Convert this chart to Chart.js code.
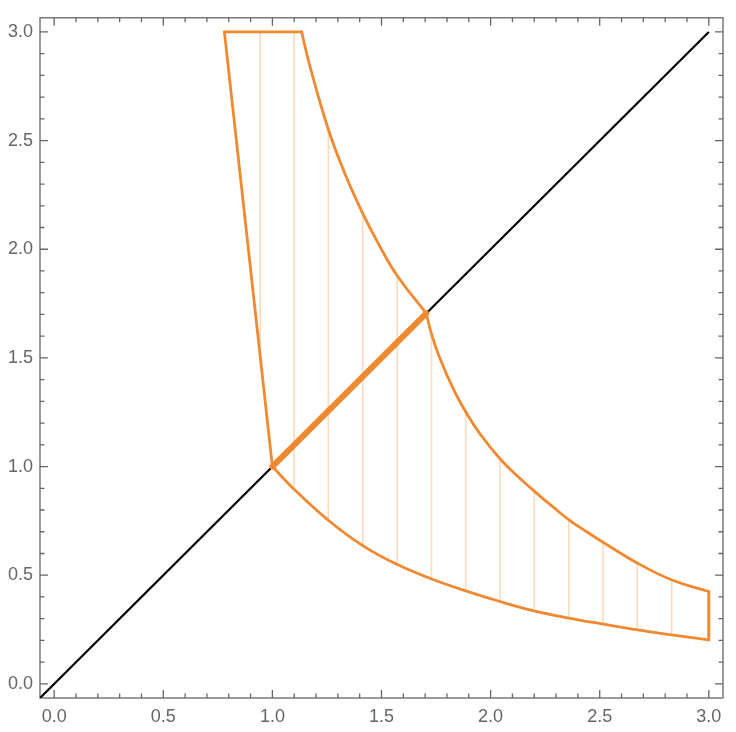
<!DOCTYPE html>
<html><head><meta charset="utf-8">
<script src="https://cdn.jsdelivr.net/npm/chart.js@4"></script>
<style>html,body{margin:0;padding:0;background:#fff}canvas{display:block}</style>
</head><body>
<canvas id="c" width="736" height="732"></canvas>
<script>
// ---- data ----
const tickValues = [0, 0.5, 1, 1.5, 2, 2.5, 3];
const tickLabels = ['0.0', '0.5', '1.0', '1.5', '2.0', '2.5', '3.0'];

const diagX = [-0.065, 3.0];
const diagY = [-0.065, 3.0];

const boldX = [1.0, 1.705];
const boldY = [1.0, 1.705];

const topEdgeX = [0.78, 1.134];
const topEdgeY = [3.0, 3.0];

const leftEdgeX = [0.78, 1.0];
const leftEdgeY = [3.0, 1.0];

const rightEdgeX = [3.0, 3.0];
const rightEdgeY = [0.202, 0.425];

const upperAX = [1.134, 1.1725, 1.256, 1.333, 1.414, 1.493, 1.572, 1.705];
const upperAY = [3.0, 2.840, 2.552, 2.346, 2.165, 2.012, 1.878, 1.705];

const upperBX = [1.705, 1.730, 1.768, 1.829, 1.886, 1.951, 2.043, 2.119, 2.200, 2.287, 2.359, 2.440, 2.513, 2.672, 2.831, 3.0];
const upperBY = [1.705, 1.607, 1.497, 1.357, 1.252, 1.151, 1.036, 0.960, 0.887, 0.813, 0.755, 0.700, 0.653, 0.556, 0.478, 0.425];

const lowerX = [1.0, 1.099, 1.256, 1.414, 1.570, 1.727, 1.886, 2.043, 2.199, 2.358, 2.516, 2.672, 2.829, 3.0];
const lowerY = [1.0, 0.896, 0.753, 0.636, 0.550, 0.484, 0.428, 0.379, 0.336, 0.303, 0.275, 0.249, 0.226, 0.202];

const meshX      = [0.944, 1.099, 1.256, 1.414, 1.572, 1.729, 1.886, 2.043, 2.200, 2.358, 2.515, 2.672, 2.830, 2.996];
const meshTop    = [3.0,   3.0,   2.552, 2.165, 1.878, 1.607, 1.252, 1.036, 0.887, 0.755, 0.653, 0.556, 0.478, 0.425];
const meshBottom = [1.50,  0.896, 0.753, 0.636, 0.550, 0.484, 0.428, 0.379, 0.336, 0.303, 0.275, 0.249, 0.226, 0.202];

const axisMin = -0.065, axisMax = 3.065;

// ---- build ----
const ORANGE = 'rgb(241,137,49)';
const MESH = 'rgba(242,140,51,0.32)';
const pts = (xs, ys) => xs.map((x, i) => ({x, y: ys[i]}));
const line = (xs, ys, color, w, extra) => Object.assign({
  data: pts(xs, ys), showLine: true, pointRadius: 0, pointHoverRadius: 0,
  borderColor: color, backgroundColor: color, borderWidth: w, fill: false,
  borderCapStyle: 'round', borderJoinStyle: 'round'
}, extra || {});

const datasets = [];
datasets.push(line(upperAX, upperAY, ORANGE, 2.8, {tension: 0.4}));
datasets.push(line(upperBX, upperBY, ORANGE, 2.8, {tension: 0.4}));
datasets.push(line(lowerX, lowerY, ORANGE, 2.8, {tension: 0.4}));
datasets.push(line(topEdgeX, topEdgeY, ORANGE, 2.8));
datasets.push(line(leftEdgeX, leftEdgeY, ORANGE, 2.8));
datasets.push(line(rightEdgeX, rightEdgeY, ORANGE, 2.8));
datasets.push(line(boldX, boldY, ORANGE, 6));
meshX.forEach((mx, i) => {
  datasets.push(line([mx, mx], [meshBottom[i], meshTop[i]], MESH, 1.6, {borderCapStyle: 'butt'}));
});
datasets.push(line(diagX, diagY, '#000', 2.2, {borderCapStyle: 'butt'}));

const framePlugin = {
  id: 'frame',
  beforeDatasetsDraw(chart) {
    const {ctx, chartArea: a, scales: {x, y}} = chart;
    ctx.save();
    ctx.strokeStyle = '#666';
    ctx.lineWidth = 1.3;
    ctx.strokeRect(a.left, a.top, a.right - a.left, a.bottom - a.top);
    ctx.beginPath();
    for (let k = 0; k <= 30; k++) {
      const v = k / 10;
      const len = (k % 5 === 0) ? 8 : 4.5;
      const px = x.getPixelForValue(v), py = y.getPixelForValue(v);
      ctx.moveTo(px, a.bottom); ctx.lineTo(px, a.bottom - len);
      ctx.moveTo(px, a.top); ctx.lineTo(px, a.top + len);
      ctx.moveTo(a.left, py); ctx.lineTo(a.left + len, py);
      ctx.moveTo(a.right, py); ctx.lineTo(a.right - len, py);
    }
    ctx.stroke();
    ctx.restore();
  }
};

const tickFont = {family: '"Liberation Sans", Arial, sans-serif', size: 18};
const setTicks = s => { s.ticks = tickValues.map(v => ({value: v})); };

new Chart(document.getElementById('c'), {
  type: 'scatter',
  data: {datasets},
  options: {
    responsive: false,
    animation: false,
    devicePixelRatio: 1,
    layout: {padding: {top: 15, right: 13, left: 0, bottom: 0}},
    plugins: {legend: {display: false}, tooltip: {enabled: false}},
    events: [],
    scales: {
      x: {
        type: 'linear', min: axisMin, max: axisMax,
        afterBuildTicks: setTicks,
        afterFit: s => { s.height = 34; },
        grid: {display: false, drawTicks: false},
        border: {display: false},
        ticks: {font: tickFont, color: '#666', padding: 8, maxRotation: 0, autoSkip: false,
                callback: (v, i) => tickLabels[i]}
      },
      y: {
        type: 'linear', min: axisMin, max: axisMax,
        afterBuildTicks: setTicks,
        afterFit: s => { s.width = 40; },
        grid: {display: false, drawTicks: false},
        border: {display: false},
        ticks: {font: tickFont, color: '#666', padding: 7, autoSkip: false,
                callback: (v, i) => tickLabels[i]}
      }
    }
  },
  plugins: [framePlugin]
});
</script>
</body></html>
